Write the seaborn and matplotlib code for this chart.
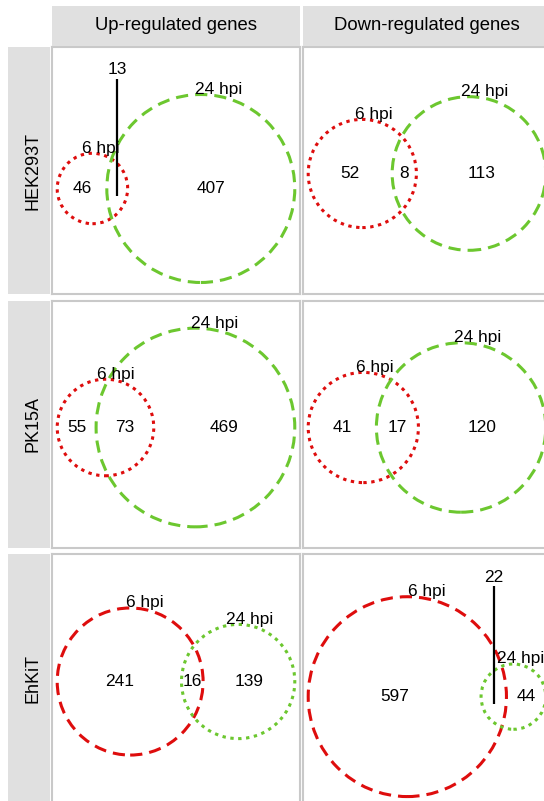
import numpy as np
import pandas as pd
import matplotlib
matplotlib.use("Agg")
import matplotlib.pyplot as plt
from matplotlib.patches import Circle
import seaborn as sns

# Differentially expressed genes: 6 hpi only / shared / 24 hpi only
cell_lines = ["HEK293T", "PK15A", "EhKiT"]
regulation = ["Up-regulated genes", "Down-regulated genes"]
set_names = ["6 hpi", "24 hpi"]
only_6hpi = [46, 52, 55, 41, 241, 597]
shared = [13, 8, 73, 17, 16, 22]
only_24hpi = [407, 113, 469, 120, 139, 44]

df = pd.DataFrame({
    "line": np.repeat(cell_lines, 2),
    "regulation": regulation * 3,
    "only_a": only_6hpi,
    "both": shared,
    "only_b": only_24hpi,
})

sns.set_theme(style="white")
plt.rcParams["font.family"] = ["Liberation Sans", "DejaVu Sans"]
plt.rcParams["text.color"] = "black"

FIG_W, FIG_H = 544, 801
PANEL_W, PANEL_H = 248, 247
SET_COLORS = ["#de0d0d", "#6cc72f"]
LW = 2.2
DASHED = (0, (4.0, 2.3))
DOTTED = (0, (1.1, 1.5))
FONT = 12.4
EXT_SHARE = 0.035


def lens_area(d, r1, r2):
    if d >= r1 + r2:
        return 0.0
    if d <= abs(r1 - r2):
        return np.pi * min(r1, r2) ** 2
    a1 = r1 ** 2 * np.arccos((d ** 2 + r1 ** 2 - r2 ** 2) / (2 * d * r1))
    a2 = r2 ** 2 * np.arccos((d ** 2 + r2 ** 2 - r1 ** 2) / (2 * d * r2))
    a3 = 0.5 * np.sqrt((-d + r1 + r2) * (d + r1 - r2) * (d - r1 + r2) * (d + r1 + r2))
    return a1 + a2 - a3


def centre_distance(r1, r2, area):
    lo, hi = abs(r1 - r2), r1 + r2
    for _ in range(200):
        mid = 0.5 * (lo + hi)
        if lens_area(mid, r1, r2) > area:
            lo = mid
        else:
            hi = mid
    return 0.5 * (lo + hi)


def draw_venn(data, **kws):
    ax = plt.gca()
    row = data.iloc[0]
    a, ab, b = row["only_a"], row["both"], row["only_b"]
    n1, n2 = a + ab, b + ab
    r1, r2 = np.sqrt(n1 / np.pi), np.sqrt(n2 / np.pi)
    d = centre_distance(r1, r2, ab)

    left = min(-r1, d - r2)
    right = max(r1, d + r2)
    s = 0.958 * PANEL_W / (right - left)
    x0 = PANEL_W / 2 - s * (left + right) / 2
    external = ab / (a + ab + b) < EXT_SHARE
    cy = PANEL_H / 2 - 3 - (15 if external else 0)

    cx = [x0, x0 + s * d]
    R = [s * r1, s * r2]
    big = 0 if n1 >= n2 else 1
    for i in range(2):
        ax.add_patch(Circle((cx[i], cy), R[i], fill=False, ec=SET_COLORS[i],
                            lw=LW, ls=DASHED if i == big else DOTTED,
                            capstyle="butt"))
        ax.text(cx[i] + R[i] * np.sin(np.radians(10)) + 2, cy + R[i] + 5,
                set_names[i], ha="center", va="center", fontsize=FONT)

    mid_a = 0.5 * ((cx[0] - R[0]) + (cx[1] - R[1]))
    mid_ab = 0.5 * ((cx[1] - R[1]) + (cx[0] + R[0]))
    mid_b = 0.5 * ((cx[0] + R[0]) + (cx[1] + R[1]))
    ax.text(mid_a, cy, f"{a}", ha="center", va="center", fontsize=FONT)
    ax.text(mid_b, cy, f"{b}", ha="center", va="center", fontsize=FONT)
    if external:
        ax.plot([mid_ab, mid_ab], [cy - 7, cy + 110], color="black", lw=1.6,
                solid_capstyle="butt")
        ax.text(mid_ab, cy + 118.5, f"{ab}", ha="center", va="center",
                fontsize=FONT)
    else:
        ax.text(mid_ab, cy, f"{ab}", ha="center", va="center", fontsize=FONT)

    ax.set_xlim(0, PANEL_W)
    ax.set_ylim(0, PANEL_H)


g = sns.FacetGrid(df, row="line", col="regulation", row_order=cell_lines,
                  col_order=regulation, height=2.47, aspect=PANEL_W / PANEL_H,
                  despine=False)
g.map_dataframe(draw_venn)
g.set_titles(template="")
g.set_axis_labels("", "")

fig = g.figure
fig.set_size_inches(FIG_W / 100, FIG_H / 100)
fig.set_facecolor("white")


def px_box(x0, y0, x1, y1):
    return [x0 / FIG_W, 1 - y1 / FIG_H, (x1 - x0) / FIG_W, (y1 - y0) / FIG_H]


col_x = [(52, 300), (303, 551)]
row_y = [(47, 294), (301, 548), (554, 803)]

for i in range(3):
    for j in range(2):
        ax = g.axes[i, j]
        x0, x1 = col_x[j]
        y0, y1 = row_y[i]
        ax.set_position(px_box(x0, y0, x1, y1))
        ax.set_xticks([])
        ax.set_yticks([])
        ax.set_facecolor("white")
        for sp in ax.spines.values():
            sp.set_visible(True)
            sp.set_color("#c9c9c9")
            sp.set_linewidth(1.5)

STRIP = "#e0e0e0"
for j, label in enumerate(regulation):
    x0, x1 = col_x[j]
    sax = fig.add_axes(px_box(x0, 6, x1, 46))
    sax.set_facecolor(STRIP)
    sax.set_xticks([])
    sax.set_yticks([])
    for sp in sax.spines.values():
        sp.set_visible(False)
    sax.text(0.5, 0.5, label, ha="center", va="center", fontsize=13.3,
             color="black", transform=sax.transAxes)

for i, label in enumerate(cell_lines):
    y0, y1 = row_y[i]
    sax = fig.add_axes(px_box(8, y0, 50, y1))
    sax.set_facecolor(STRIP)
    sax.set_xticks([])
    sax.set_yticks([])
    for sp in sax.spines.values():
        sp.set_visible(False)
    sax.text(0.6, 0.5, label, ha="center", va="center", rotation=90,
             fontsize=13, color="black", transform=sax.transAxes)

fig.savefig("out.png", dpi=100)
